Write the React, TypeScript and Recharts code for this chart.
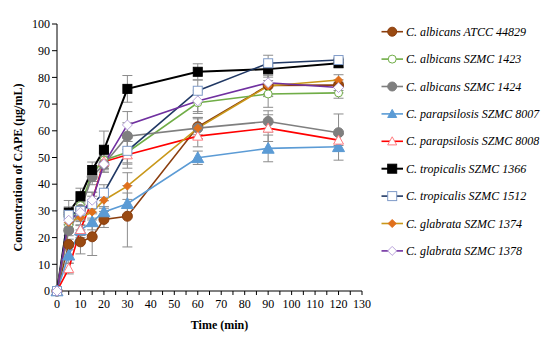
import React from 'react';
import { LineChart, Line, XAxis, YAxis, ErrorBar } from 'recharts';

const times = [0, 5, 10, 15, 20, 30, 60, 90, 120];

const seriesNames = [
  'C. albicans ATCC 44829',
  'C. albicans SZMC 1423',
  'C. albicans SZMC 1424',
  'C. parapsilosis SZMC 8007',
  'C. parapsilosis SZMC 8008',
  'C. tropicalis SZMC 1366',
  'C. tropicalis SZMC 1512',
  'C. glabrata SZMC 1374',
  'C. glabrata SZMC 1378',
];

const albicansATCC44829 = [0, 17.4, 18.4, 20.3, 26.8, 28, 61.5, 77, 77.1];
const albicans1423 = [0, 24.5, 32, 44, 49, 52, 70.5, 73.8, 74.2];
const albicans1424 = [0, 22.7, 30.5, 42.8, 47.5, 58, 61, 63.5, 59.3];
const parapsilosis8007 = [0, 13.4, 22.8, 25.9, 29.6, 32.7, 49.9, 53.4, 54];
const parapsilosis8008 = [0, 8.4, 23, 34, 48.4, 51, 58, 61, 56.5];
const tropicalis1366 = [0, 29.4, 35.5, 45.3, 52.9, 75.7, 82.1, 83.1, 85.3];
const tropicalis1512 = [0, 28.5, 30, 32.5, 36.8, 52.5, 75, 85.3, 86.5];
const glabrata1374 = [0, 25.7, 27.5, 29.6, 34, 39.3, 61, 76.8, 79];
const glabrata1378 = [0, 26.5, 29.5, 34, 47.5, 62.2, 71.2, 78, 76.2];

const errATCC44829 = [0, 2, 4.5, 7, 3, 11.5, 3, 4, 2];
const err1423 = [0, 2, 2, 3, 3, 4, 4, 5, 2];
const err1424 = [0, 2, 3, 3, 3, 5, 4, 4, 7];
const err8007 = [0, 3, 2, 3, 2, 4, 2.5, 5, 5];
const err8008 = [0, 2, 3, 3, 3, 5, 4, 5, 2];
const err1366 = [0, 4.5, 3, 3, 7, 5, 3, 3, 1.5];
const err1512 = [0, 3, 3, 3, 3, 5, 4, 3, 1];
const err1374 = [0, 3, 3, 3, 3, 5, 4, 4, 2];
const err1378 = [0, 3, 3, 3, 3, 5, 4, 4, 2];

const xTicks = [0, 5, 10, 15, 20, 25, 30, 35, 40, 45, 50, 55, 60, 65, 70, 75, 80, 85, 90, 95, 100, 105, 110, 115, 120, 125, 130];
const yTicks = [0, 10, 20, 30, 40, 50, 60, 70, 80, 90, 100];

const values = [albicansATCC44829, albicans1423, albicans1424, parapsilosis8007, parapsilosis8008, tropicalis1366, tropicalis1512, glabrata1374, glabrata1378];
const errors = [errATCC44829, err1423, err1424, err8007, err8008, err1366, err1512, err1374, err1378];

type Style = { line: string; shape: string; stroke: string; fill: string; size: number; width: number };
const styles: Style[] = [
  { line: '#8B3E0E', shape: 'circle', stroke: '#8B3E0E', fill: '#9A4A12', size: 5, width: 1.6 },
  { line: '#70AD47', shape: 'circle', stroke: '#70AD47', fill: '#ffffff', size: 4, width: 1.6 },
  { line: '#7F7F7F', shape: 'circle', stroke: '#7F7F7F', fill: '#7F7F7F', size: 5, width: 1.6 },
  { line: '#5B9BD5', shape: 'triangle', stroke: '#5B9BD5', fill: '#5B9BD5', size: 6, width: 1.6 },
  { line: '#FF0000', shape: 'triangle', stroke: '#FF7C80', fill: '#ffffff', size: 5, width: 1.6 },
  { line: '#000000', shape: 'square', stroke: '#000000', fill: '#000000', size: 4.5, width: 2 },
  { line: '#203864', shape: 'square', stroke: '#7F9BC8', fill: '#ffffff', size: 4.5, width: 1.6 },
  { line: '#C9981A', shape: 'diamond', stroke: '#E0701C', fill: '#E0701C', size: 4, width: 1.6 },
  { line: '#7030A0', shape: 'diamond', stroke: '#B9A3DA', fill: '#ffffff', size: 5, width: 1.6 },
];

const data = times.map((t, i) => {
  const row: Record<string, number> = { t };
  values.forEach((v, s) => {
    row['s' + s] = v[i];
    row['e' + s] = errors[s][i];
  });
  return row;
});

function Marker({ cx, cy, st }: { cx: number; cy: number; st: Style }) {
  const r = st.size;
  if (st.shape === 'circle') return <circle cx={cx} cy={cy} r={r} fill={st.fill} stroke={st.stroke} strokeWidth={1} />;
  if (st.shape === 'square') return <rect x={cx - r} y={cy - r} width={2 * r} height={2 * r} fill={st.fill} stroke={st.stroke} strokeWidth={1} />;
  if (st.shape === 'triangle')
    return <polygon points={`${cx},${cy - r} ${cx + r},${cy + r * 0.8} ${cx - r},${cy + r * 0.8}`} fill={st.fill} stroke={st.stroke} strokeWidth={1} />;
  return <polygon points={`${cx},${cy - r} ${cx + r},${cy} ${cx},${cy + r} ${cx - r},${cy}`} fill={st.fill} stroke={st.stroke} strokeWidth={1} />;
}

const makeDot = (st: Style, s: number) => (props: any) => {
  const { cx, cy, index } = props;
  if (cx == null || cy == null) return <g key={`d${s}-${index}`} />;
  return (
    <g key={`d${s}-${index}`}>
      <Marker cx={cx} cy={cy} st={st} />
    </g>
  );
};

const font = '"Liberation Serif", "Times New Roman", serif';

function Legend() {
  return (
    <svg width={550} height={341} style={{ position: 'absolute', left: 0, top: 0, pointerEvents: 'none' }}>
      {seriesNames.map((name, i) => {
        const y = 31.7 + i * 27.4;
        const st = styles[i];
        return (
          <g key={name}>
            <line x1={381.5} x2={403} y1={y} y2={y} stroke={st.line} strokeWidth={st.width} />
            <Marker cx={392.2} cy={y} st={{ ...st, size: Math.min(st.size, 4.5) }} />
            <text x={406} y={y} dominantBaseline="central" fontFamily={font} fontStyle="italic" fontSize={12} fill="#000">
              {name}
            </text>
          </g>
        );
      })}
    </svg>
  );
}

export default function App() {
  return (
    <div style={{ position: 'absolute', left: 0, top: 0, width: 550, height: 341, background: '#fff' }}>
      <LineChart width={550} height={341} data={data} margin={{ top: 24, right: 188, left: 0, bottom: 20 }}>
        <XAxis
          dataKey="t"
          type="number"
          domain={[0, 130]}
          ticks={xTicks}
          interval={0}
          tickFormatter={(v: number) => (v % 10 === 0 ? String(v) : '')}
          tickSize={4}
          tickMargin={4}
          height={30}
          stroke="#000"
          tick={{ fill: '#000', fontSize: 12, fontFamily: font }}
          label={{
            content: (p: any) => {
              const vb = p.viewBox;
              return (
                <text x={vb.x + vb.width / 2 + 10} y={325} textAnchor="middle" dominantBaseline="central" fontFamily={font} fontWeight="bold" fontSize={12} fill="#000">
                  Time (min)
                </text>
              );
            },
          }}
        />
        <YAxis
          type="number"
          domain={[0, 100]}
          ticks={yTicks}
          interval={0}
          width={57}
          tickSize={5}
          tickMargin={2}
          stroke="#000"
          tick={{ fill: '#000', fontSize: 12, fontFamily: font }}
          label={{
            content: (p: any) => {
              const vb = p.viewBox;
              const cy = vb.y + vb.height / 2 + 10;
              return (
                <text x={18} y={cy} transform={`rotate(-90 18 ${cy})`} textAnchor="middle" dominantBaseline="central" fontFamily={font} fontWeight="bold" fontSize={12} fill="#000">
                  Concentration of CAPE (μg/mL)
                </text>
              );
            },
          }}
        />
        {styles.map((st, s) => (
          <Line
            key={s}
            type="linear"
            dataKey={'s' + s}
            name={seriesNames[s]}
            stroke={st.line}
            strokeWidth={st.width}
            dot={makeDot(st, s)}
            activeDot={false}
            isAnimationActive={false}
          >
            <ErrorBar dataKey={'e' + s} width={5} stroke="#8C8C8C" strokeWidth={1} direction="y" isAnimationActive={false} />
          </Line>
        ))}
      </LineChart>
      <Legend />
    </div>
  );
}
